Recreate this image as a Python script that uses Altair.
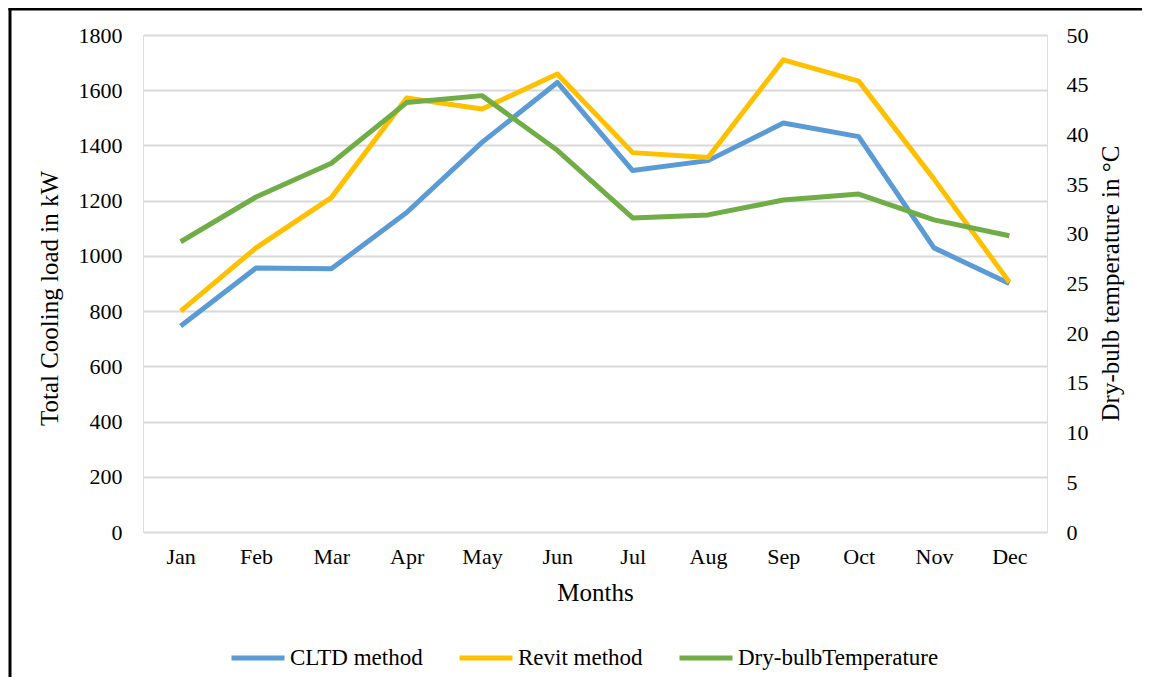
import altair as alt
import pandas as pd

months = ["Jan", "Feb", "Mar", "Apr", "May", "Jun", "Jul", "Aug", "Sep", "Oct", "Nov", "Dec"]
cltd = [746, 956, 953, 1157, 1411, 1628, 1309, 1345, 1481, 1432, 1029, 900]
revit = [800, 1029, 1211, 1572, 1532, 1659, 1374, 1356, 1710, 1633, 1278, 905]
temp = [29.2, 33.7, 37.1, 43.2, 43.9, 38.4, 31.6, 31.9, 33.4, 34.0, 31.4, 29.8]

series_names = ["CLTD method", "Revit method", "Dry-bulbTemperature"]
series_colors = ["#5B9BD5", "#FFC000", "#70AD47"]

FONT = "Liberation Serif"

load_df = pd.DataFrame({
    "Month": months * 2,
    "Series": [series_names[0]] * 12 + [series_names[1]] * 12,
    "Value": cltd + revit,
})
temp_df = pd.DataFrame({
    "Month": months,
    "Series": [series_names[2]] * 12,
    "Value": temp,
})

x_enc = alt.X(
    "Month:N", sort=months,
    scale=alt.Scale(type="point", padding=0.5),
    axis=alt.Axis(
        title="Months", domain=False, ticks=False, labelAngle=0,
        labelFont=FONT, labelFontSize=22, labelColor="#000", labelPadding=14,
        titleFont=FONT, titleFontSize=25, titleFontWeight="normal", titleColor="#000",
        titleBaseline="alphabetic", titleY=68,
    ),
)

color_enc = alt.Color(
    "Series:N",
    scale=alt.Scale(domain=series_names, range=series_colors),
    legend=alt.Legend(
        title=None, orient="none", direction="horizontal",
        legendX=86, legendY=594,
        symbolType="stroke", symbolSize=2809, symbolStrokeWidth=5,
        labelFont=FONT, labelFontSize=23, labelColor="#000", labelOffset=3,
        labelLimit=400, columnPadding=26, padding=0,
    ),
)

left = alt.Chart(load_df).mark_line(strokeWidth=5, strokeJoin="round").encode(
    x=x_enc,
    y=alt.Y(
        "Value:Q",
        scale=alt.Scale(domain=[0, 1800]),
        axis=alt.Axis(
            title="Total Cooling load in kW", values=list(range(0, 1801, 200)), format="d",
            domain=False, ticks=False, grid=True, gridColor="#D9D9D9", gridWidth=2,
            labelFont=FONT, labelFontSize=22, labelColor="#000", labelPadding=21,
            titleFont=FONT, titleFontSize=25, titleFontWeight="normal", titleColor="#000",
            titleAngle=270, titleBaseline="alphabetic", titleAlign="center",
            titleX=-86, titleY=263,
        ),
    ),
    color=color_enc,
)

right = alt.Chart(temp_df).mark_line(strokeWidth=5, strokeJoin="round").encode(
    x=x_enc,
    y=alt.Y(
        "Value:Q",
        scale=alt.Scale(domain=[0, 50]),
        axis=alt.Axis(
            orient="right", title="Dry-bulb temperature in °C",
            values=list(range(0, 51, 5)),
            domain=False, ticks=False, grid=False,
            labelFont=FONT, labelFontSize=22, labelColor="#000", labelPadding=19,
            titleFont=FONT, titleFontSize=25, titleFontWeight="normal", titleColor="#000",
            titleAngle=270, titleBaseline="alphabetic", titleAlign="center",
            titleX=71, titleY=248,
        ),
    ),
    color=color_enc,
)

frame_df = pd.DataFrame({"a": [0]})
top_edge = alt.Chart(frame_df).mark_rule(stroke="#000", strokeWidth=3, clip=False).encode(
    x=alt.value(-134.5), x2=alt.value(1000), y=alt.value(-26),
)
left_edge = alt.Chart(frame_df).mark_rule(stroke="#000", strokeWidth=3, clip=False).encode(
    x=alt.value(-133), y=alt.value(-27.5), y2=alt.value(700),
)

chart = alt.layer(left, right, top_edge, left_edge).resolve_scale(y="independent").properties(
    width=904, height=497,
    autosize=alt.AutoSizeParams(type="none"),
    padding={"left": 135, "top": 27, "right": 95, "bottom": 145},
).configure_view(stroke=None).configure_legend(
    labelFont=FONT
).configure(background="white", font=FONT)

chart.save("out.html", embed_options={"renderer": "svg", "actions": False})
